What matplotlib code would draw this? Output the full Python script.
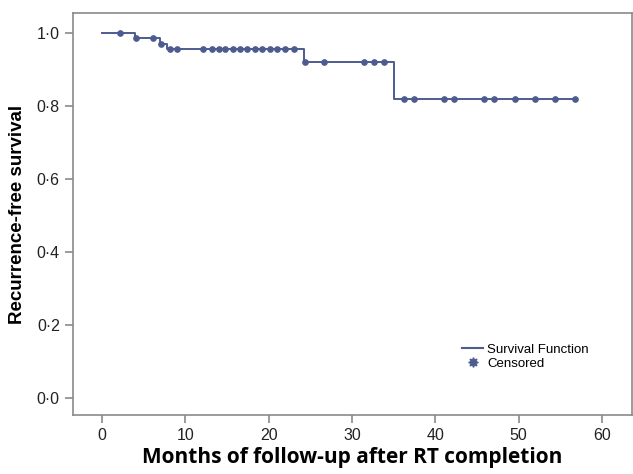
import matplotlib.pyplot as plt
import numpy as np
from matplotlib.lines import Line2D
from matplotlib.ticker import FuncFormatter

# Kaplan-Meier step values
event_times = [0.0, 4.0, 6.9, 7.8, 24.2, 35.0]
survival = [1.0, 0.986, 0.971, 0.957, 0.921, 0.818]
censor_times = [2.1, 4.1, 6.1, 7.1, 8.1, 9.0, 12.1, 13.2, 14.0, 14.8, 15.7,
                16.6, 17.4, 18.4, 19.2, 20.2, 21.0, 22.0, 23.0, 24.3, 26.6,
                31.4, 32.6, 33.8, 36.2, 37.4, 41.0, 42.2, 45.8, 47.0, 49.6,
                52.0, 54.4, 56.7]
x_ticks = [0, 10, 20, 30, 40, 50, 60]
y_ticks = [0.0, 0.2, 0.4, 0.6, 0.8, 1.0]

color = "#4d5b8f"
frame = "#8a8a8a"

plt.rcParams["font.family"] = ["Liberation Sans", "DejaVu Sans"]

fig = plt.figure(figsize=(6.33, 4.74), dpi=100)
ax = fig.add_axes([0.1153, 0.1245, 0.8831, 0.8481])

# step line, extended to the last censored case
xs = list(event_times) + [censor_times[-1]]
ys = list(survival) + [survival[-1]]
ax.step(xs, ys, where="post", color=color, lw=1.4)

# censored marks sit on the curve
idx = np.searchsorted(event_times, censor_times, side="right") - 1
cy = np.array(survival)[idx]
ax.plot(censor_times, cy, "o", color=color, ms=3.8, mec=color)

ax.set_xlim(-3.5, 63.6)
ax.set_ylim(-0.047, 1.055)
ax.set_xticks(x_ticks)
ax.set_yticks(y_ticks)
ax.yaxis.set_major_formatter(FuncFormatter(lambda v, p: f"{v:.1f}".replace(".", "\u00b7")))

for s in ax.spines.values():
    s.set_color(frame)
    s.set_linewidth(1.2)
ax.tick_params(axis="both", colors=frame, labelcolor="#222222", labelsize=11.5,
               length=6, width=1.2)

ax.set_ylabel("Recurrence-free survival", fontsize=13.5, fontweight="bold",
              labelpad=8)
ax.set_xlabel("Months of follow-up after RT completion", fontsize=15,
              fontweight="bold", family=["Open Sans", "DejaVu Sans"], labelpad=3)

handles = [
    Line2D([0], [0], color=color, lw=1.5),
    Line2D([0], [0], color=color, marker=(8, 1, 0), ls="none", ms=7),
]
ax.legend(handles, ["Survival Function", "Censored"], loc="upper left",
          bbox_to_anchor=(0.68, 0.2), frameon=False, fontsize=9.5,
          handlelength=1.6, handletextpad=0.3, labelspacing=0.1,
          borderpad=0.2)

fig.savefig("out.png", dpi=100)
